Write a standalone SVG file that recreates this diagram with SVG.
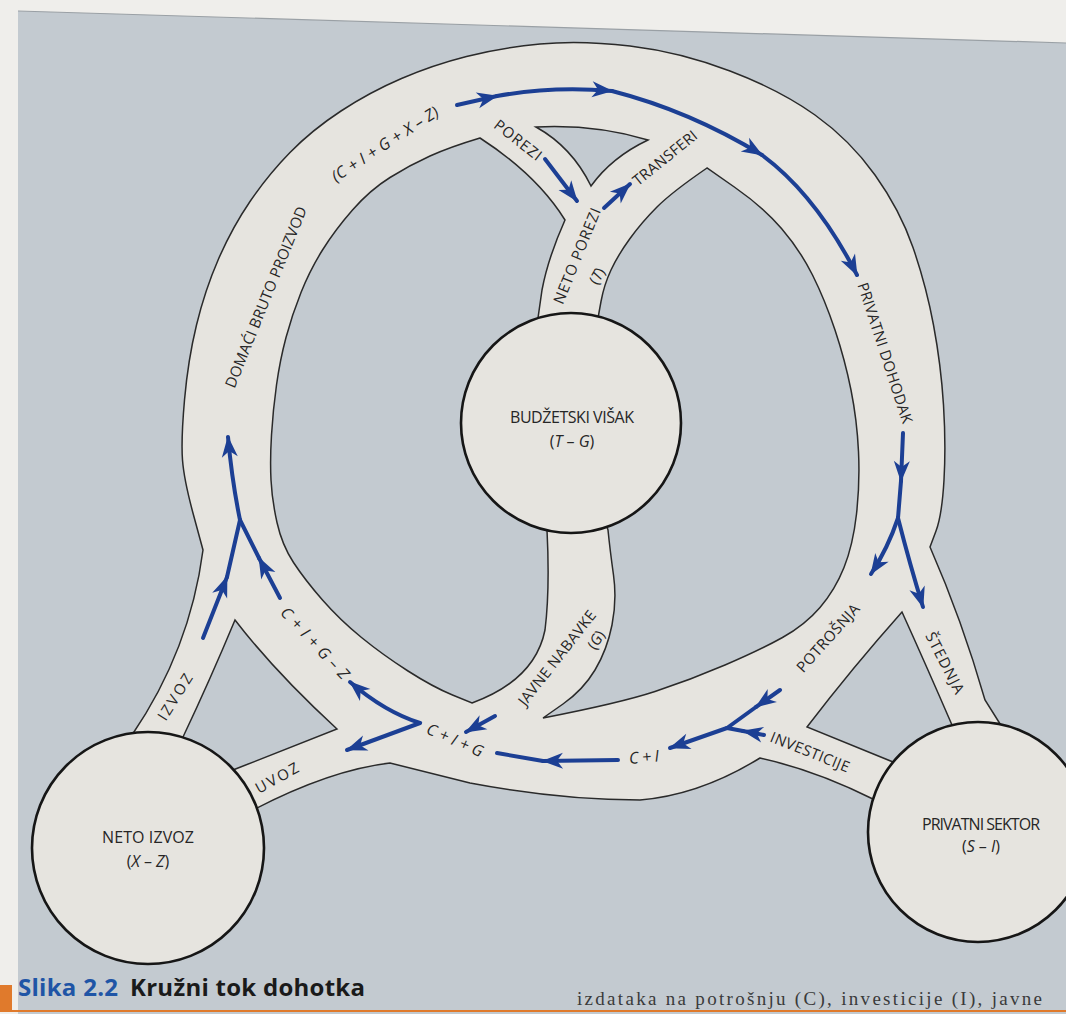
<svg xmlns="http://www.w3.org/2000/svg" width="1066" height="1014" viewBox="0 0 1066 1014">
<style>
.tube{fill:#e6e4df;stroke:#2a2a2a;stroke-width:1.5;stroke-linejoin:miter}
.hole{fill:#c3cad0;stroke:#2a2a2a;stroke-width:1.5}
.node{fill:#e6e4df;stroke:#161616;stroke-width:2.6}
.flow{fill:none;stroke:#1c3f94;stroke-width:4;stroke-linecap:round}
.head{marker-end:url(#ah)}
.lbl{font-family:"Open Sans","DejaVu Sans",sans-serif;font-size:15px;fill:#262626}
.fx{font-size:16px}
.nl{font-family:"Open Sans","DejaVu Sans",sans-serif;font-size:16px;fill:#262626;text-anchor:middle}
.it{font-style:italic}
</style>
<defs>
<marker id="ah" viewBox="-22 -10 24 20" refX="0" refY="0" markerWidth="24" markerHeight="20" markerUnits="userSpaceOnUse" orient="auto">
<path d="M1,0 L-20,-8 L-14,0 L-20,8 Z" fill="#1c3f94"/>
</marker>
</defs>
<rect x="0" y="0" width="1066" height="1014" fill="#efeeeb"/>
<polygon points="18,11 1066,43 1066,1014 18,1014" fill="#c3cad0"/>
<line x1="18" y1="11" x2="1066" y2="43" stroke="#9aa0a5" stroke-width="1.2"/>
<rect x="0" y="985" width="12" height="25" fill="#e07a2c"/>
<rect x="0" y="1010" width="1066" height="2" fill="#e07a2c"/>

<g id="tubes">
<path class="tube" d="M 203,550 L 193.5,515 Q 184,480 182.5,460 Q 181,440 184.5,400 Q 188,360 196.5,325 Q 205,290 218.5,259 Q 232,228 250,201.5 Q 268,175 290,152.5 Q 312,130 341,111 Q 370,92 401.5,78.5 Q 433,65 466.5,56.5 Q 500,48 540,44 Q 580,40 630,46 Q 680,52 730,71 Q 780,90 815,115 Q 850,140 875,175 Q 900,210 913,247.5 Q 926,285 933.5,325 Q 941,365 943.5,405 Q 946,445 944,480 Q 942,515 936,531 L 930,547 Q 962,620 985,700 L 1002,727 L 978,832 L 875,800 Q 815,770 760,758 Q 700,795 640,800 Q 560,800 470,783 L 390,763 Q 330,770 253,810 L 148,848 L 132,735 Q 190,650 203,550 Z"/>
<path class="hole" d="M 480,138 Q 537,175 565,220 Q 548,258 542,290 L 538,318 L 571,423 L 547,530 Q 550,590 545,630 Q 535,680 472,703 L 452.5,695 Q 433,687 408,671 Q 383,655 361.5,637.5 Q 340,620 322.5,600 Q 305,580 293.5,562.5 Q 282,545 277,522.5 Q 272,500 271,480 Q 270,460 271.5,435 Q 273,410 276.5,385 Q 280,360 286,337.5 Q 292,315 301,292.5 Q 310,270 322.5,250 Q 335,230 352.5,210 Q 370,190 390,177.5 Q 410,165 430,156 Q 450,147 480,138 Z"/>
<path class="hole" d="M 598,318 L 601,301.5 Q 604,285 611,270 Q 618,255 630,238.5 Q 642,222 657,207 Q 672,192 707,168 L 735,187.5 Q 763,207 781.5,228.5 Q 800,250 812.5,275 Q 825,300 835,330 Q 845,360 851,390 Q 857,420 858.5,451.5 Q 860,483 856.5,514 Q 853,545 844,567.5 Q 835,590 820,607.5 Q 805,625 782.5,637.5 Q 760,650 725,665 Q 690,680 655,691.5 Q 620,703 543,718 L 563,704 Q 583,690 595,670 Q 607,650 612,625 Q 617,600 613.5,575 Q 610,550 608,530 L 571,423 Z"/>
<path class="hole" d="M 536,127 Q 595,124 648,140 Q 612,157 591,186 Q 572,147 536,127 Z"/>
<path class="hole" d="M 235,620 Q 275,672 337,729 L 233,770 L 148,848 L 183,737 Q 210,680 235,620 Z"/>
<path class="hole" d="M 902,612 Q 853,667 807,727 L 893,762 L 978,832 L 952,725 Q 926,665 902,612 Z"/>
</g>

<g id="node-budzetski-visak">
<circle class="node" cx="571" cy="423" r="110"/>
<text class="nl" x="572" y="423" textLength="124">BUDŽETSKI VIŠAK</text>
<text class="nl" x="572" y="447">(<tspan class="it">T</tspan> – <tspan class="it">G</tspan>)</text>
</g>
<g id="node-neto-izvoz">
<circle class="node" cx="148" cy="848" r="116"/>
<text class="nl" x="148" y="843" textLength="92">NETO IZVOZ</text>
<text class="nl" x="148" y="867">(<tspan class="it">X</tspan> – <tspan class="it">Z</tspan>)</text>
</g>
<g id="node-privatni-sektor">
<circle class="node" cx="978" cy="832" r="110"/>
<text class="nl" x="981" y="830" textLength="118">PRIVATNI SEKTOR</text>
<text class="nl" x="981" y="852">(<tspan class="it">S</tspan> – <tspan class="it">I</tspan>)</text>
</g>

<g id="connectors">
<path class="flow head" d="M 457,105 L 497,96"/>
<path class="flow head" d="M 497,96 Q 552,86 612,91"/>
<path class="flow head" d="M 612,91 Q 690,111 762,155"/>
<path class="flow head" d="M 762,155 Q 816,195 857,275"/>
<path class="flow head" d="M 545,159 L 577,201"/>
<path class="flow head" d="M 604,208 L 630,184"/>
<path class="flow head" d="M 903,433 L 901,481"/>
<path class="flow" d="M 901,481 L 898,518"/>
<path class="flow head" d="M 898,518 Q 888,548 871,574"/>
<path class="flow head" d="M 898,518 Q 910,565 923,607"/>
<path class="flow head" d="M 780,690 L 756,707"/>
<path class="flow" d="M 756,707 L 727,728"/>
<path class="flow head" d="M 764,735 L 743,731"/>
<path class="flow" d="M 743,731 L 727,728"/>
<path class="flow head" d="M 727,728 L 670,748"/>
<path class="flow head" d="M 618,760 L 543,761"/>
<path class="flow" d="M 543,761 L 497,753"/>
<path class="flow head" d="M 495,716 L 466,732"/>
<path class="flow head" d="M 420,723 Q 385,712 350,682"/>
<path class="flow head" d="M 420,723 L 347,750"/>
<path class="flow head" d="M 203,638 L 227,577"/>
<path class="flow" d="M 227,577 L 240,520"/>
<path class="flow head" d="M 280,598 L 259,558"/>
<path class="flow" d="M 259,558 L 240,520"/>
<path class="flow head" d="M 240,520 Q 232,481 228,437"/>
</g>

<g id="labels" text-anchor="middle">
<text class="lbl fx it" transform="translate(385,144) rotate(-33)" dy="0.35em" textLength="124">(C + I + G + X – Z)</text>
<text class="lbl" transform="translate(518,140) rotate(38)" dy="0.35em" textLength="56">POREZI</text>
<text class="lbl" transform="translate(665,158) rotate(-39)" dy="0.35em" textLength="78">TRANSFERI</text>
<text class="lbl" transform="translate(577,256) rotate(-68)" dy="0.35em" textLength="102">NETO POREZI</text>
<text class="lbl" transform="translate(597,276) rotate(-60)" dy="0.35em">(<tspan class="it">T</tspan>)</text>
<text class="lbl" transform="translate(266,297) rotate(-68)" dy="0.35em" textLength="194">DOMAĆI BRUTO PROIZVOD</text>
<text class="lbl" transform="translate(885,353) rotate(72)" dy="0.35em" textLength="147">PRIVATNI DOHODAK</text>
<text class="lbl" transform="translate(828,638) rotate(-48)" dy="0.35em" textLength="86">POTROŠNJA</text>
<text class="lbl" transform="translate(945,663) rotate(63)" dy="0.35em" textLength="67">ŠTEDNJA</text>
<text class="lbl" transform="translate(810,752) rotate(22)" dy="0.35em" textLength="84">INVESTICIJE</text>
<text class="lbl fx it" transform="translate(644,757) rotate(-5)" dy="0.35em" textLength="30">C + I</text>
<text class="lbl fx it" transform="translate(455,740) rotate(24)" dy="0.35em" textLength="60">C + I + G</text>
<text class="lbl fx it" transform="translate(315,643) rotate(47)" dy="0.35em" textLength="92">C + I + G – Z</text>
<text class="lbl" transform="translate(175,697) rotate(-58)" dy="0.35em" textLength="52">IZVOZ</text>
<text class="lbl" transform="translate(277,778) rotate(-29)" dy="0.35em" textLength="47">UVOZ</text>
<text class="lbl" transform="translate(557,658) rotate(-52)" dy="0.35em" textLength="116">JAVNE NABAVKE</text>
<text class="lbl" transform="translate(596,640) rotate(-58)" dy="0.35em">(<tspan class="it">G</tspan>)</text>
</g>

<g id="caption">
<text x="18" y="996" font-family="Open Sans, DejaVu Sans, sans-serif" font-size="24" font-weight="bold" fill="#1f55a6" textLength="100">Slika 2.2</text>
<text x="130" y="996" font-family="Open Sans, DejaVu Sans, sans-serif" font-size="24" font-weight="bold" fill="#1a1a1a" textLength="235">Kružni tok dohotka</text>
<text x="577" y="1005" font-family="Liberation Serif, serif" font-size="19" fill="#3a3a3a" textLength="465">izdataka na potrošnju (C), investicije (I), javne</text>
</g>
</svg>
